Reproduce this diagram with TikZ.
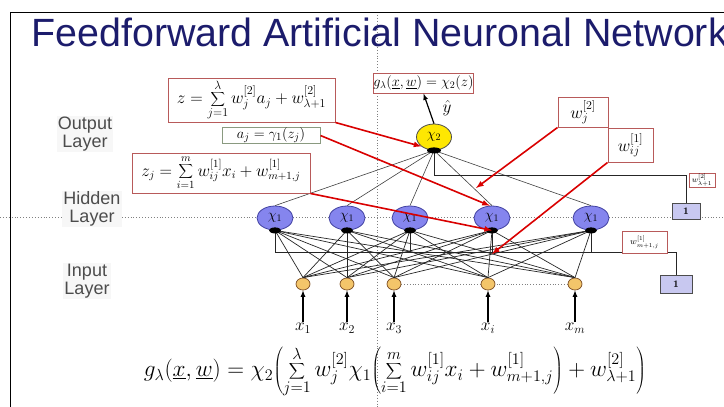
\documentclass[tikz,border=0pt]{standalone}
\usepackage{fontspec}
\setsansfont{Liberation Sans}
\usetikzlibrary{shapes.geometric,backgrounds}
\definecolor{titleblue}{HTML}{1C1C6C}
\definecolor{boxred}{HTML}{B85A5A}
\definecolor{boxgreen}{HTML}{8A9A80}
\definecolor{hidfill}{HTML}{8585EE}
\definecolor{hidline}{HTML}{4040A0}
\definecolor{infill}{HTML}{F3C56A}
\definecolor{onefill}{HTML}{C8C8F0}
\begin{document}
\begin{tikzpicture}[x=1pt,y=-1pt,
  hidden/.style={ellipse,draw=hidline,fill=hidfill,line width=0.8pt,minimum width=36pt,minimum height=24pt,inner sep=0pt,font=\fontsize{14}{16}\selectfont},
  outnode/.style={ellipse,draw=black!70,fill=yellow!90!orange,line width=0.8pt,minimum width=35pt,minimum height=26pt,inner sep=0pt,font=\fontsize{14}{16}\selectfont},
  innode/.style={ellipse,draw=brown!70!black,fill=infill,line width=0.8pt,minimum width=14pt,minimum height=12pt,inner sep=0pt},
  formbox/.style={draw=boxred,line width=1pt,fill=white,inner sep=0pt},
  onebox/.style={draw=black!70,fill=onefill,line width=0.8pt,inner sep=0pt,font=\bfseries},
  redarrow/.style={->,>=latex,red!85!black,line width=1.6pt},
  link/.style={black!85,line width=0.7pt},
  layerlabel/.style={font=\sffamily\fontsize{18}{18}\selectfont,text=black!70,align=center,fill=black!3,inner sep=1pt}]
  \useasboundingbox (0,0) rectangle (724,407);
  \clip (0,0) rectangle (724,407);

  % Frame and title
  \draw[line width=1pt] (10,407) -- (10,12) -- (724,12);
  \node[anchor=base west,font=\sffamily\fontsize{39.4}{42}\selectfont,text=titleblue] (title) at (28,46) {Feedforward Artificial Neuronal Network};

  % Layers
  \foreach \n/\x in {1/275,2/347,3/410,4/492,5/591}
    \node[hidden] (h\n) at (\x,218) {$\chi_1$};
  \node[outnode] (out) at (434,137) {$\chi_2$};
  \foreach \n/\x/\lab in {1/303/x_1,2/347/x_2,3/394/x_3,4/488/x_i,5/575/x_m} {
    \node[innode] (i\n) at (\x,284) {};
    \node[anchor=north,inner sep=1pt,font=\fontsize{17}{20}\selectfont] (l\n) at (\x,322) {$\lab$};
    \draw[->,>=latex,line width=1.2pt] (l\n) -- (i\n);
  }

  % Guide lines
  \begin{scope}[on background layer]
    \draw[dotted,gray,line width=0.9pt] (377,12) -- (377,407);
    \draw[dotted,gray,line width=0.9pt] (0,217) -- (724,217);
    \draw[dotted,gray,line width=0.8pt] (i3) -- (i5);
  \end{scope}

  % Layer names
  \node[layerlabel] (outlab) at (85,134) {Output\\Layer};
  \node[layerlabel] (hidlab) at (92,209) {Hidden\\Layer};
  \node[layerlabel] (inlab) at (87,281) {Input\\Layer};

  % Weights
  \foreach \a in {1,...,5}
    \foreach \b in {1,...,5}
      \draw[link] (i\a.north) -- (h\b.south);
  \foreach \n in {1,...,5}
    \draw[black!75,line width=0.6pt] (h\n.north) -- (out.south);

  % Bias nodes
  \node[onebox,minimum width=28pt,minimum height=16pt] (one1) at (686,211) {1};
  \node[onebox,minimum width=32pt,minimum height=18pt] (one2) at (676,284) {1};
  \coordinate (busL) at (275,252);
  \draw[link] (one2.north) |- (busL);
  \foreach \n in {1,...,5}
    \draw[link] (h\n.south |- busL) -- (h\n.south);
  \draw[link] (out.south) -- ++(0,25) -| (one1.north);
  \foreach \n in {1,...,5}
    \fill (h\n.south) ellipse (6pt and 3pt);
  \fill (out.south) ellipse (7pt and 3pt);

  % Formula boxes
  \node[formbox,minimum width=167pt,minimum height=44pt,font=\fontsize{17}{18}\selectfont] (zbox) at (251.5,100)
    {$\displaystyle z=\sum_{j=1}^{\lambda} w_j^{[2]}a_j+w_{\lambda+1}^{[2]}$};
  \node[formbox,draw=boxgreen,minimum width=98pt,minimum height=15pt,font=\fontsize{15}{15}\selectfont] (abox) at (271,135.5)
    {$a_j=\gamma_1(z_j)$};
  \node[formbox,minimum width=178pt,minimum height=40pt,font=\fontsize{16}{17}\selectfont] (zjbox) at (221,173)
    {$\displaystyle z_j=\sum_{i=1}^{m} w_{ij}^{[1]}x_i+w_{m+1,j}^{[1]}$};
  \node[formbox,minimum width=97pt,minimum height=20pt,font=\fontsize{14}{15}\selectfont] (gbox) at (423.5,83)
    {$g_\lambda(\underline{x},\underline{w})=\chi_2(z)$};
  \node[formbox,minimum width=50pt,minimum height=30pt,font=\fontsize{17}{18}\selectfont] (wjbox) at (583,112) {$w_j^{[2]}$};
  \node[formbox,minimum width=45pt,minimum height=34pt,font=\fontsize{17}{18}\selectfont] (wijbox) at (630.5,145) {$w_{ij}^{[1]}$};
  \node[formbox,minimum width=26pt,minimum height=14pt,font=\fontsize{8}{8}\selectfont] (wlbox) at (702,180) {$w_{\lambda+1}^{[2]}$};
  \node[formbox,minimum width=45pt,minimum height=22pt,font=\fontsize{9}{9}\selectfont] (wmbox) at (644.5,242) {$w_{m+1,j}^{[1]}$};

  % Output
  \draw[->,>=latex,line width=1.2pt] (out.north) -- (gbox.south);
  \node[font=\fontsize{18}{20}\selectfont] (yhat) at (447,108) {$\hat{y}$};

  % Pointers
  \coordinate (wjtip) at (476,188);
  \coordinate (wijtip) at (492,254);
  \draw[redarrow] (zbox.south east) -- (out.south west);
  \draw[redarrow] (abox.east) -- (h4.100);
  \draw[redarrow] (zjbox.south east) -- (h4.south);
  \draw[redarrow] (wjbox.south west) -- (wjtip);
  \draw[redarrow] (wijbox.south west) -- (wijtip);

  % Network function
  \node[font=\fontsize{20.74}{24}\selectfont] (gform) at (395,372)
    {\scalebox{1.12}{$\displaystyle g_\lambda(\underline{x},\underline{w}) = \chi_2\!\left(\sum_{j=1}^{\lambda} w_j^{[2]}\chi_1\!\left(\sum_{i=1}^{m} w_{ij}^{[1]}x_i + w_{m+1,j}^{[1]}\right) + w_{\lambda+1}^{[2]}\right)$}};
\end{tikzpicture}
\end{document}
